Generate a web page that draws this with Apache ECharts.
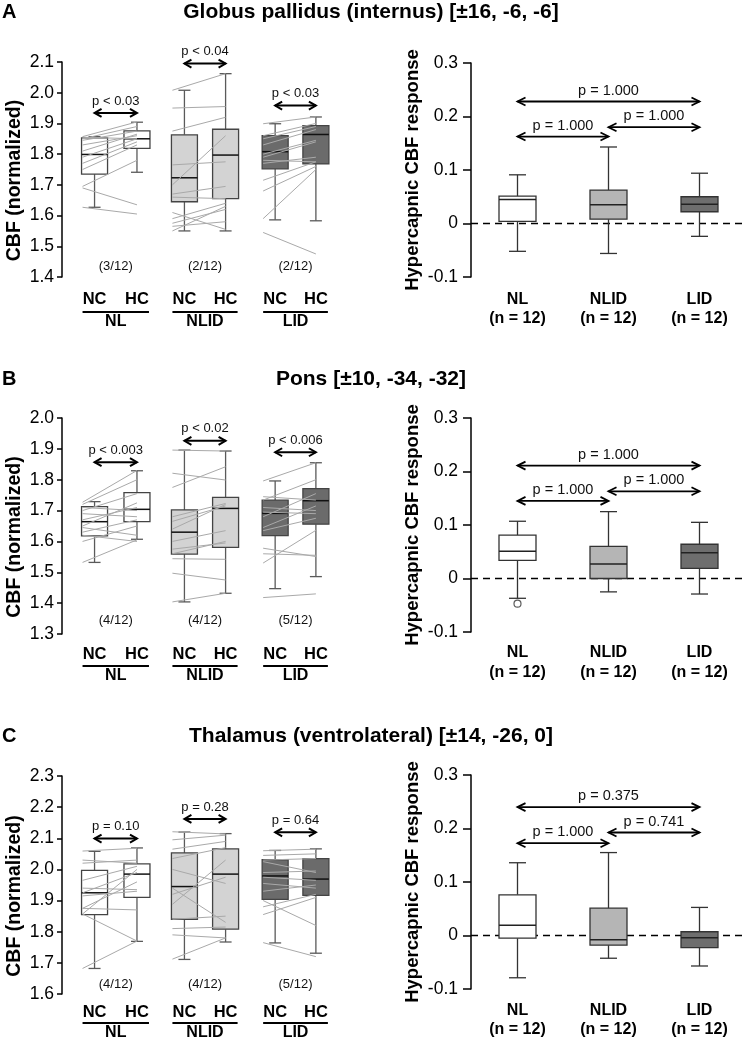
<!DOCTYPE html>
<html><head><meta charset="utf-8">
<script src="https://cdn.jsdelivr.net/npm/echarts@6/dist/echarts.min.js"></script>
<style>html,body{margin:0;padding:0;background:#fff}#c{width:742px;height:1040px}</style>
</head><body><div id="c"></div>
<script>
// ================= DATA =================
const panelTitles = ['Globus pallidus (internus) [±16, -6, -6]', 'Pons [±10, -34, -32]', 'Thalamus (ventrolateral) [±14, -26, 0]'];
const panelLetters = ['A', 'B', 'C'];
const groupNames = ['NL', 'NLID', 'LID'];
const condNames = ['NC', 'HC'];
const nLabels = ['(n = 12)', '(n = 12)', '(n = 12)'];
const leftAxisName = 'CBF (normalized)';
const rightAxisName = 'Hypercapnic CBF response';

// y-axis ranges (tick labels every 0.1)
const gpRange = [1.4, 2.1];
const ponsRange = [1.3, 2.0];
const thalRange = [1.6, 2.3];
const respRange = [-0.1, 0.3];

// ---- Globus pallidus: box stats [min, Q1, median, Q3, max] for NL-NC, NL-HC, NLID-NC, NLID-HC, LID-NC, LID-HC
const gpBoxes = [
  [1.627, 1.735, 1.799, 1.853, 1.857], [1.741, 1.819, 1.850, 1.876, 1.904],
  [1.550, 1.645, 1.723, 1.863, 2.008], [1.550, 1.655, 1.797, 1.881, 2.062],
  [1.586, 1.752, 1.808, 1.860, 1.899], [1.583, 1.768, 1.864, 1.893, 1.921]
];
const gpNL_NC = [1.857, 1.850, 1.845, 1.830, 1.810, 1.790, 1.770, 1.750, 1.695, 1.690, 1.627, 1.855];
const gpNL_HC = [1.905, 1.890, 1.875, 1.860, 1.865, 1.850, 1.840, 1.830, 1.780, 1.635, 1.605, 1.850];
const gpNLID_NC = [2.008, 1.950, 1.875, 1.700, 1.765, 1.670, 1.660, 1.590, 1.610, 1.575, 1.550, 1.565];
const gpNLID_HC = [2.062, 1.955, 1.920, 1.860, 1.775, 1.695, 1.655, 1.640, 1.555, 1.620, 1.630, 1.580];
const gpLID_NC = [1.899, 1.860, 1.850, 1.830, 1.800, 1.790, 1.780, 1.770, 1.715, 1.680, 1.590, 1.545];
const gpLID_HC = [1.921, 1.900, 1.890, 1.880, 1.845, 1.840, 1.775, 1.790, 1.775, 1.760, 1.750, 1.475];
const gpCounts = ['(3/12)', '(2/12)', '(2/12)'];
const gpPairP = ['p < 0.03', 'p < 0.04', 'p < 0.03'];
const gpPairY = [1.934, 2.095, 1.958];
const gpResp = [[-0.052, 0.004, 0.045, 0.051, 0.091], [-0.056, 0.008, 0.035, 0.0625, 0.143], [-0.024, 0.022, 0.036, 0.050, 0.094]];
const gpRespP = ['p = 1.000', 'p = 1.000', 'p = 1.000']; // NL-LID, NL-NLID, NLID-LID
const gpRespY = [0.228, 0.1625, 0.180];
const gpOutliers = [];

// ---- Pons
const ponsBoxes = [
  [1.532, 1.618, 1.664, 1.713, 1.729], [1.607, 1.664, 1.704, 1.758, 1.829],
  [1.404, 1.559, 1.630, 1.702, 1.896], [1.432, 1.581, 1.707, 1.743, 1.893],
  [1.447, 1.619, 1.691, 1.734, 1.796], [1.486, 1.656, 1.732, 1.771, 1.855]
];
const ponsNL_NC = [1.727, 1.720, 1.710, 1.700, 1.690, 1.670, 1.650, 1.645, 1.630, 1.600, 1.532, 1.620];
const ponsNL_HC = [1.830, 1.800, 1.700, 1.755, 1.680, 1.710, 1.725, 1.620, 1.670, 1.650, 1.605, 1.600];
const ponsNLID_NC = [1.896, 1.821, 1.775, 1.680, 1.665, 1.640, 1.600, 1.575, 1.544, 1.497, 1.404, 1.560];
const ponsNLID_HC = [1.893, 1.799, 1.842, 1.723, 1.715, 1.720, 1.635, 1.595, 1.542, 1.475, 1.432, 1.600];
const ponsLID_NC = [1.796, 1.734, 1.745, 1.710, 1.680, 1.645, 1.635, 1.695, 1.578, 1.560, 1.530, 1.418];
const ponsLID_HC = [1.855, 1.800, 1.734, 1.700, 1.755, 1.715, 1.675, 1.690, 1.551, 1.555, 1.636, 1.430];
const ponsCounts = ['(4/12)', '(4/12)', '(5/12)'];
const ponsPairP = ['p < 0.003', 'p < 0.02', 'p < 0.006'];
const ponsPairY = [1.857, 1.926, 1.889];
const ponsResp = [[-0.037, 0.034, 0.051, 0.081, 0.107], [-0.025, 0.000, 0.027, 0.060, 0.125], [-0.029, 0.019, 0.048, 0.064, 0.105]];
const ponsRespP = ['p = 1.000', 'p = 1.000', 'p = 1.000'];
const ponsRespY = [0.211, 0.145, 0.163];
const ponsOutliers = [[0, -0.047]];

// ---- Thalamus
const thalBoxes = [
  [1.682, 1.855, 1.925, 1.997, 2.058], [1.769, 1.910, 1.985, 2.018, 2.069],
  [1.711, 1.840, 1.945, 2.053, 2.120], [1.767, 1.808, 1.985, 2.066, 2.115],
  [1.764, 1.904, 1.979, 2.031, 2.061], [1.731, 1.917, 1.969, 2.035, 2.066]
];
const thalNL_NC = [2.059, 2.030, 2.020, 1.965, 1.925, 1.915, 1.875, 1.875, 1.857, 1.857, 1.682, 1.940];
const thalNL_HC = [2.068, 2.020, 2.030, 2.010, 1.990, 1.930, 1.960, 1.870, 2.000, 1.770, 1.770, 1.935];
const thalNLID_NC = [2.121, 2.095, 2.065, 2.035, 2.000, 1.920, 1.888, 1.940, 1.840, 1.810, 1.790, 1.712];
const thalNLID_HC = [2.114, 2.110, 2.090, 2.070, 1.955, 1.975, 2.030, 1.830, 1.850, 1.815, 1.780, 1.780];
const thalLID_NC = [2.060, 2.045, 2.030, 2.025, 1.990, 1.975, 1.955, 1.930, 1.880, 1.855, 1.900, 1.765];
const thalLID_HC = [2.065, 2.050, 2.035, 1.990, 1.995, 1.965, 1.940, 1.950, 1.920, 1.910, 1.820, 1.720];
const thalCounts = ['(4/12)', '(4/12)', '(5/12)'];
const thalPairP = ['p = 0.10', 'p = 0.28', 'p = 0.64'];
const thalPairY = [2.099, 2.162, 2.119];
const thalResp = [[-0.079, -0.005, 0.019, 0.076, 0.136], [-0.0425, -0.018, -0.008, 0.051, 0.155], [-0.057, -0.0225, -0.004, 0.007, 0.0525]];
const thalRespP = ['p = 0.375', 'p = 1.000', 'p = 0.741'];
const thalRespY = [0.240, 0.1725, 0.1925];
const thalOutliers = [];

// ================= LAYOUT =================
const FONT = '"Liberation Sans", Arial, Helvetica, sans-serif';
const SLOT = [0, 1.01, 2.14, 3.12, 4.3, 5.27];     // x slots of the 6 left boxes (axis units)
const L_LEFT = 62, L_W = 278, L_UNIT = 42, L_X0 = -0.775;
const R_LEFT = 471, R_W = 271, R_UNIT = 91, R_X0 = -0.511;
const LEFT_FILLS = ['#ffffff', '#d3d3d3', '#6b6b6b'];
const RIGHT_FILLS = ['#ffffff', '#b5b5b5', '#6e6e6e'];
const LEFT_NAME_DX = 47, LEFT_NAME_DY = 11;   // left axis title offset from axis middle (px)

const ROWS = [
  { title: panelTitles[0], letter: panelLetters[0], titleTop: 2, lTop: 62, lH: 215, rTop: 63, rH: 214, range: gpRange,
    boxes: gpBoxes, subj: [[gpNL_NC, gpNL_HC], [gpNLID_NC, gpNLID_HC], [gpLID_NC, gpLID_HC]],
    counts: gpCounts, countY: 1.435, pairP: gpPairP, pairY: gpPairY, resp: gpResp, respP: gpRespP, respY: gpRespY,
    outliers: gpOutliers, lbl: [22, 35, 45], rlbl: [23, 42] },
  { title: panelTitles[1], letter: panelLetters[1], titleTop: 369, lTop: 418, lH: 216, rTop: 418, rH: 214, range: ponsRange,
    boxes: ponsBoxes, subj: [[ponsNL_NC, ponsNL_HC], [ponsNLID_NC, ponsNLID_HC], [ponsLID_NC, ponsLID_HC]],
    counts: ponsCounts, countY: 1.345, pairP: ponsPairP, pairY: ponsPairY, resp: ponsResp, respP: ponsRespP, respY: ponsRespY,
    outliers: ponsOutliers, lbl: [20, 32, 42], rlbl: [21, 41] },
  { title: panelTitles[2], letter: panelLetters[2], titleTop: 726, lTop: 776, lH: 218, rTop: 775, rH: 214, range: thalRange,
    boxes: thalBoxes, subj: [[thalNL_NC, thalNL_HC], [thalNLID_NC, thalNLID_HC], [thalLID_NC, thalLID_HC]],
    counts: thalCounts, countY: 1.632, pairP: thalPairP, pairY: thalPairY, resp: thalResp, respP: thalRespP, respY: thalRespY,
    outliers: thalOutliers, lbl: [18, 29, 39], rlbl: [22, 41] }
];

function txt(x, y, text, size, weight, align, valign, color) {
  return { type: 'text', style: { x, y, text, fontSize: size, fontWeight: weight || 'normal', fontFamily: FONT,
    fill: color || '#000', align: align || 'center', verticalAlign: valign || 'middle',
    textAlign: align || 'center', textVerticalAlign: valign || 'middle' } };
}

function boxSeries(xi, positions, stats, fills, o) {
  return {
    type: 'custom', xAxisIndex: xi, yAxisIndex: xi, z: 2, silent: true, clip: false,
    data: stats.map((s, i) => [positions[i], s[0], s[1], s[2], s[3], s[4]]),
    renderItem: (params, api) => {
      const x = api.value(0);
      const p = [1, 2, 3, 4, 5].map(k => api.coord([x, api.value(k)]));
      const cx = p[0][0];
      const fill = fills[params.dataIndex];
      const ws = { stroke: o.whisker, lineWidth: o.lw };
      return { type: 'group', children: [
        { type: 'line', shape: { x1: cx, y1: p[4][1], x2: cx, y2: p[3][1] }, style: ws },
        { type: 'line', shape: { x1: cx, y1: p[1][1], x2: cx, y2: p[0][1] }, style: ws },
        { type: 'line', shape: { x1: cx - o.cap, y1: p[4][1], x2: cx + o.cap, y2: p[4][1] }, style: ws },
        { type: 'line', shape: { x1: cx - o.cap, y1: p[0][1], x2: cx + o.cap, y2: p[0][1] }, style: ws },
        { type: 'rect', shape: { x: cx - o.half, y: p[3][1], width: 2 * o.half, height: p[1][1] - p[3][1] },
          style: { fill, stroke: o.stroke, lineWidth: o.lw } },
        { type: 'line', shape: { x1: cx - o.half, y1: p[2][1], x2: cx + o.half, y2: p[2][1] },
          style: { stroke: o.median, lineWidth: o.mlw } }
      ] };
    }
  };
}

function bracketSeries(xi, pairs, labels, o) {
  return {
    type: 'custom', xAxisIndex: xi, yAxisIndex: xi, z: 4, silent: true, clip: false,
    data: pairs,
    renderItem: (params, api) => {
      const a = api.coord([api.value(0), api.value(2)]);
      const b = api.coord([api.value(1), api.value(2)]);
      const y = a[1], h = o.head, w = o.headW;
      const st = { stroke: '#000', fill: null, lineWidth: o.lw };
      return { type: 'group', children: [
        { type: 'line', shape: { x1: a[0], y1: y, x2: b[0], y2: y }, style: st },
        { type: 'polyline', shape: { points: [[a[0] + h, y - w], [a[0], y], [a[0] + h, y + w]] }, style: st },
        { type: 'polyline', shape: { points: [[b[0] - h, y - w], [b[0], y], [b[0] - h, y + w]] }, style: st },
        txt((a[0] + b[0]) / 2, y - o.gap, labels[params.dataIndex], o.font, 'normal', 'center', 'middle', '#111')
      ] };
    }
  };
}

const option = { animation: false, backgroundColor: '#fff', title: [], grid: [], xAxis: [], yAxis: [], series: [] };

ROWS.forEach((row, r) => {
  const li = 2 * r, ri = 2 * r + 1;
  option.title.push({ text: row.title, left: 'center', top: row.titleTop, padding: 0,
    textStyle: { fontFamily: FONT, fontSize: 21, fontWeight: 'bold', color: '#000' } });
  option.title.push({ text: row.letter, left: 2, top: row.titleTop, padding: 0,
    textStyle: { fontFamily: FONT, fontSize: 20, fontWeight: 'bold', color: '#000' } });

  option.grid.push({ left: L_LEFT, top: row.lTop, width: L_W, height: row.lH });
  option.grid.push({ left: R_LEFT, top: row.rTop, width: R_W, height: row.rH });

  option.xAxis.push({ type: 'value', gridIndex: li, min: L_X0, max: L_X0 + L_W / L_UNIT, show: false });
  option.xAxis.push({ type: 'value', gridIndex: ri, min: R_X0, max: R_X0 + R_W / R_UNIT, show: false });

  const axisCommon = {
    type: 'value', interval: 0.1, splitLine: { show: false },
    axisLine: { show: true, onZero: false, lineStyle: { color: '#000', width: 1.5 } },
    nameLocation: 'middle'
  };
  option.yAxis.push(Object.assign({}, axisCommon, {
    gridIndex: li, min: row.range[0], max: row.range[1],
    axisTick: { show: true, length: 5, lineStyle: { color: '#000', width: 1.5 } },
    axisLabel: { formatter: v => v.toFixed(1), fontSize: 17.5, color: '#000', margin: 8, fontFamily: FONT, showMinLabel: true, showMaxLabel: true }
  }));
  option.yAxis.push(Object.assign({}, axisCommon, {
    gridIndex: ri, min: respRange[0], max: respRange[1], name: rightAxisName, nameGap: 49,
    nameTextStyle: { fontFamily: FONT, fontSize: 18.5, fontWeight: 'bold', color: '#000' },
    axisTick: { show: true, length: 8, lineStyle: { color: '#000', width: 1.5 } },
    axisLabel: { formatter: v => Math.abs(v) < 1e-9 ? '0' : v.toFixed(1), fontSize: 17.5, color: '#000', margin: 13, fontFamily: FONT, showMinLabel: true, showMaxLabel: true }
  }));

  // ---- left panel ----
  option.series.push(boxSeries(li, SLOT, row.boxes, [0, 0, 1, 1, 2, 2].map(g => LEFT_FILLS[g]),
    { half: 13, cap: 6, lw: 1.3, whisker: '#5a5a5a', stroke: '#444', median: '#111', mlw: 1.5 }));

  const lines = [];
  row.subj.forEach((pair, g) => {
    pair[0].forEach((v, k) => lines.push([SLOT[2 * g], v, SLOT[2 * g + 1], pair[1][k]]));
  });
  option.series.push({
    type: 'custom', xAxisIndex: li, yAxisIndex: li, z: 3, silent: true, clip: false, data: lines,
    renderItem: (params, api) => {
      const a = api.coord([api.value(0), api.value(1)]);
      const b = api.coord([api.value(2), api.value(3)]);
      return { type: 'line', shape: { x1: a[0] - 12, y1: a[1], x2: b[0], y2: b[1] }, style: { stroke: '#a9a9a9', lineWidth: 1 } };
    }
  });

  option.series.push(bracketSeries(li, [0, 1, 2].map(g => [SLOT[2 * g], SLOT[2 * g + 1], row.pairY[g]]), row.pairP,
    { head: 7, headW: 4, lw: 2, gap: 12, font: 13 }));

  // counts
  option.series.push({
    type: 'custom', xAxisIndex: li, yAxisIndex: li, z: 5, silent: true, clip: false,
    data: [0, 1, 2].map(g => [(SLOT[2 * g] + SLOT[2 * g + 1]) / 2, row.countY]),
    renderItem: (params, api) => {
      const p = api.coord([api.value(0), api.value(1)]);
      return txt(p[0], p[1], row.counts[params.dataIndex], 13, 'normal', 'center', 'middle', '#111');
    }
  });

  // left axis title (rotated), placed relative to axis middle
  option.series.push({
    type: 'custom', xAxisIndex: li, yAxisIndex: li, z: 5, silent: true, clip: false,
    data: [[L_X0, (row.range[0] + row.range[1]) / 2]],
    renderItem: (params, api) => {
      const p = api.coord([api.value(0), api.value(1)]);
      const t = txt(0, 0, leftAxisName, 19.5, 'bold');
      t.x = p[0] - LEFT_NAME_DX; t.y = p[1] + LEFT_NAME_DY; t.rotation = Math.PI / 2;
      return t;
    }
  });

  // NC / HC labels and group labels with underline
  option.series.push({
    type: 'custom', xAxisIndex: li, yAxisIndex: li, z: 5, silent: true, clip: false,
    data: [0, 1, 2].map(g => [SLOT[2 * g], SLOT[2 * g + 1], row.range[0]]),
    renderItem: (params, api) => {
      const a = api.coord([api.value(0), api.value(2)]);
      const b = api.coord([api.value(1), api.value(2)]);
      const y0 = a[1];
      return { type: 'group', children: [
        txt(a[0], y0 + row.lbl[0], condNames[0], 16.5, 'bold'),
        txt(b[0], y0 + row.lbl[0], condNames[1], 16.5, 'bold'),
        { type: 'line', shape: { x1: a[0] - 12, y1: y0 + row.lbl[1], x2: b[0] + 12, y2: y0 + row.lbl[1] }, style: { stroke: '#000', lineWidth: 2 } },
        txt((a[0] + b[0]) / 2, y0 + row.lbl[2], groupNames[params.dataIndex], 16, 'bold')
      ] };
    }
  });

  // ---- right panel ----
  option.series.push({
    type: 'custom', xAxisIndex: ri, yAxisIndex: ri, z: 1, silent: true, clip: false,
    data: [[R_X0, 0, R_X0 + R_W / R_UNIT]],
    renderItem: (params, api) => {
      const a = api.coord([api.value(0), api.value(1)]);
      const b = api.coord([api.value(2), api.value(1)]);
      return { type: 'line', shape: { x1: a[0], y1: a[1], x2: b[0], y2: b[1] }, style: { stroke: '#000', lineWidth: 1.6, lineDash: [7, 5] } };
    }
  });
  option.series.push(boxSeries(ri, [0, 1, 2], row.resp, RIGHT_FILLS,
    { half: 18.5, cap: 8.5, lw: 1.3, whisker: '#333', stroke: '#333', median: '#222', mlw: 1.5 }));
  option.series.push(bracketSeries(ri, [[0, 2, row.respY[0]], [0, 1, row.respY[1]], [1, 2, row.respY[2]]], row.respP,
    { head: 8, headW: 4, lw: 1.8, gap: 11, font: 14.5 }));
  if (row.outliers.length) {
    option.series.push({ type: 'scatter', xAxisIndex: ri, yAxisIndex: ri, z: 5, silent: true, data: row.outliers,
      symbol: 'circle', symbolSize: 7, itemStyle: { color: '#fff', borderColor: '#333', borderWidth: 1.2 } });
  }
  option.series.push({
    type: 'custom', xAxisIndex: ri, yAxisIndex: ri, z: 5, silent: true, clip: false,
    data: [0, 1, 2].map(g => [g, respRange[0]]),
    renderItem: (params, api) => {
      const p = api.coord([api.value(0), api.value(1)]);
      return { type: 'group', children: [
        txt(p[0], p[1] + row.rlbl[0], groupNames[params.dataIndex], 16, 'bold'),
        txt(p[0], p[1] + row.rlbl[1], nLabels[params.dataIndex], 16, 'bold')
      ] };
    }
  });
});

const chart = echarts.init(document.getElementById('c'), null, { renderer: 'canvas' });
chart.setOption(option);
</script>
</body></html>
